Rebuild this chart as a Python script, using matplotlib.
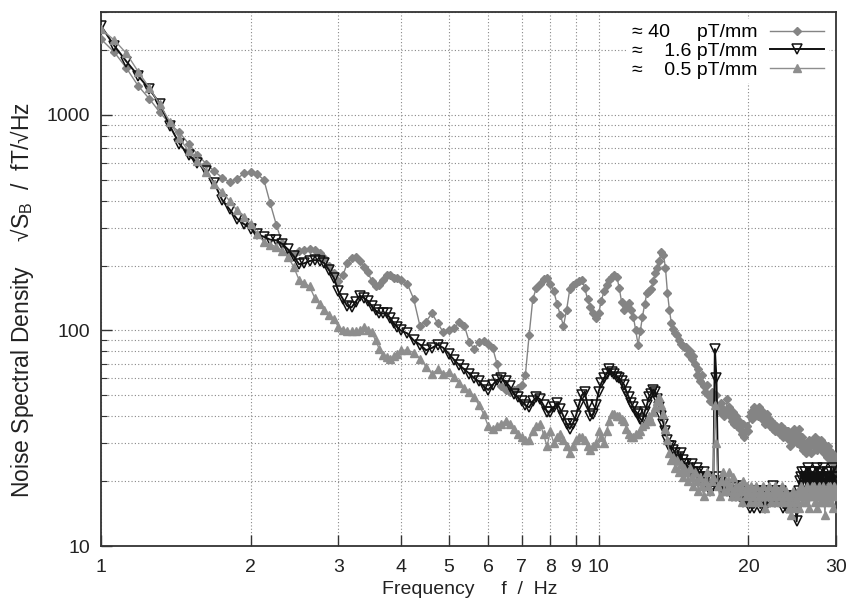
import numpy as np
import matplotlib
matplotlib.use("Agg")
import matplotlib.pyplot as plt
from matplotlib.ticker import FixedLocator, NullLocator, LogLocator, NullFormatter

# ─── Data ─────────────────────────────────────────────────────────────────────
# frequency bins: 1/16 Hz below 4 Hz, 1/8 Hz from 4 to 30 Hz
freq_lo = np.arange(1.0, 4.0, 0.0625)
freq_hi = np.arange(4.0, 30.001, 0.125)

# ≈ 40 pT/mm (grey diamonds), fT/sqrt(Hz)
nsd_40_lo = [2250, 1960, 1650, 1365, 1190, 1030, 910, 830, 735, 655,
             595, 550, 512, 490, 505, 535, 545, 530, 500, 390,
             310, 255, 228, 226, 234, 237, 239, 237, 230, 218,
             200, 185, 170, 180, 205, 218, 220, 210, 198, 186,
             170, 160, 163, 172, 181, 180, 176, 175]
nsd_40_hi = [172, 165, 140, 105, 110, 120, 108, 98,
             100, 103, 109, 105, 88, 82, 88, 89,
             87, 83, 70, 55, 53, 52, 53, 54,
             56, 62, 95, 140, 158, 165, 174, 176,
             165, 152, 133, 118, 105, 125, 155, 163,
             166, 170, 172, 158, 140, 128, 120, 114,
             120, 137, 152, 163, 172, 178, 181, 178,
             158, 135, 124, 130, 134, 124, 115, 100,
             86, 99, 116, 132, 149, 152, 155, 170,
             184, 195, 210, 232, 225, 195, 150, 125,
             108, 102, 97, 95, 90, 87, 85, 84,
             84, 78, 80, 74, 76, 70, 62, 66,
             58, 62, 55, 52, 56, 50, 47, 52,
             48, 45, 50, 44, 42, 46, 43, 40,
             42, 48, 44, 40, 38, 42, 37, 40,
             36, 38, 35, 33, 37, 32, 34, 36,
             34, 40, 42, 39, 44, 41, 43, 40,
             44, 41, 39, 42, 40, 37, 41, 38,
             39, 36, 38, 35, 37, 34, 36, 35,
             35, 33, 36, 34, 32, 35, 33, 34,
             34, 31, 29, 33, 30, 32, 35, 31,
             30, 33, 35, 31, 29, 32, 28, 30,
             29, 27, 30, 28, 31, 29, 27, 30,
             31, 29, 32, 30, 28, 31, 29, 30,
             31, 28, 30, 27, 29, 28, 26, 29,
             28, 26, 27, 25, 27, 26, 24, 26,
             25]

# ≈ 1.6 pT/mm (black open triangles)
nsd_16_lo = [2590, 2100, 1770, 1520, 1320, 1130, 890, 735, 650, 600,
             550, 485, 405, 365, 330, 312, 297, 280, 272, 264,
             262, 252, 238, 222, 203, 205, 210, 212, 211, 205,
             190, 175, 152, 140, 130, 128, 136, 145, 142, 137,
             130, 124, 120, 120, 120, 114, 108, 104]
nsd_16_hi = [100, 97, 90, 86, 81, 83, 86, 83,
             78, 73, 69, 66, 63, 60, 58, 55,
             53, 56, 59, 60, 58, 55, 51, 49,
             47, 45, 44, 47, 49, 48, 45, 42,
             42, 44, 46, 43, 40, 37, 35, 37,
             40, 45, 50, 52, 45, 40, 41, 45,
             52, 57, 60, 63, 66, 64, 63, 61,
             60, 58, 56, 52, 49, 46, 44, 42,
             41, 39, 38, 42, 45, 49, 51, 53,
             52, 48, 44, 40, 37, 34, 31, 29,
             29, 28, 27, 25, 26, 27, 25, 24,
             24, 23, 22, 24, 22, 21, 23, 22,
             21, 20, 22, 19, 21, 20, 18, 20,
             19, 82, 60, 21, 19, 20, 18, 19,
             19, 18, 20, 19, 17, 18, 19, 17,
             18, 17, 19, 18, 16, 17, 18, 16,
             16, 15, 17, 18, 15, 16, 18, 17,
             17, 15, 16, 18, 17, 15, 16, 17,
             18, 16, 17, 19, 17, 16, 18, 17,
             17, 16, 18, 17, 15, 16, 17, 15,
             16, 15, 17, 16, 15, 17, 16, 15,
             13, 15, 18, 20, 21, 22, 19, 21,
             22, 19, 20, 23, 21, 18, 22, 20,
             19, 22, 21, 18, 23, 20, 19, 22,
             21, 19, 23, 20, 18, 21, 22, 19,
             21, 18, 22, 20, 19, 23, 21, 19,
             21]

# ≈ 0.5 pT/mm (grey filled triangles)
nsd_05_lo = [2500, 2230, 1930, 1590, 1340, 1120, 930, 780, 680, 610,
             545, 480, 440, 400, 362, 337, 312, 280, 258, 250,
             245, 235, 220, 198, 172, 166, 160, 142, 133, 125,
             118, 113, 104, 101, 99, 99, 99, 100, 104, 101,
             98, 90, 82, 77, 75, 74, 76, 78]
nsd_05_hi = [81, 81, 79, 74, 68, 63, 66, 63,
             64, 61, 57, 54, 52, 49, 45, 41,
             36, 35, 36, 37, 38, 37, 35, 33,
             32, 31, 31, 34, 36, 37, 33, 29,
             34, 30, 32, 33, 31, 29, 27, 29,
             31, 32, 32, 31, 29, 28, 29, 30,
             34, 32, 30, 34, 38, 41, 41, 40,
             40, 39, 38, 35, 33, 32, 32, 33,
             33, 34, 36, 37, 38, 40, 38, 42,
             44, 47, 49, 45, 41, 35, 31, 27,
             25, 26, 23, 25, 22, 24, 21, 23,
             22, 20, 23, 21, 19, 22, 20, 18,
             21, 19, 17, 20, 22, 19, 18, 20,
             21, 45, 30, 19, 17, 20, 22, 18,
             20, 18, 22, 19, 17, 21, 18, 19,
             17, 19, 18, 16, 20, 18, 17, 19,
             18, 16, 19, 17, 18, 16, 19, 17,
             16, 18, 17, 19, 17, 15, 18, 17,
             19, 17, 16, 18, 17, 19, 16, 18,
             17, 18, 16, 19, 17, 16, 18, 17,
             16, 15, 17, 14, 16, 18, 15, 17,
             16, 18, 15, 17, 19, 16, 18, 17,
             18, 16, 19, 17, 15, 18, 17, 19,
             17, 19, 16, 18, 15, 17, 19, 16,
             18, 16, 19, 17, 14, 18, 16, 19,
             17, 19, 16, 18, 17, 15, 19, 18,
             17]

labels = ["\u2248 40     pT/mm", "\u2248    1.6 pT/mm", "\u2248    0.5 pT/mm"]
x_ticks = [1, 2, 3, 4, 5, 6, 7, 8, 9, 10, 20, 30]

freq = np.concatenate([freq_lo, freq_hi])

# ─── Plot ─────────────────────────────────────────────────────────────────────
plt.rcParams["font.family"] = ["Liberation Sans", "DejaVu Sans"]
plt.rcParams["font.size"] = 14

fig = plt.figure(figsize=(8.58, 6.06), dpi=100)
ax = fig.add_axes([0.1177, 0.099, 0.8567, 0.881])

ax.plot(freq, nsd_40_lo + nsd_40_hi, color="#848484", lw=1.0, marker="D",
        ms=4, mec="#848484", mfc="#848484", label=labels[0], zorder=3)
ax.plot(freq, nsd_16_lo + nsd_16_hi, color="#111111", lw=1.4, marker="v",
        ms=6.5, mec="#111111", mfc="none", mew=1.1, label=labels[1], zorder=4)
ax.plot(freq, nsd_05_lo + nsd_05_hi, color="#8e8e8e", lw=1.0, marker="^",
        ms=6, mec="#8e8e8e", mfc="#8e8e8e", label=labels[2], zorder=5)

ax.set_xscale("log")
ax.set_yscale("log")
ax.set_xlim(1, 30)
ax.set_ylim(10, 3000)

ax.xaxis.set_major_locator(FixedLocator(x_ticks))
ax.xaxis.set_minor_locator(NullLocator())
ax.set_xticklabels([str(t) for t in x_ticks])
ax.yaxis.set_major_locator(FixedLocator([10, 100, 1000]))
ax.set_yticklabels(["10", "100", "1000"])
ax.yaxis.set_minor_locator(LogLocator(base=10, subs=np.arange(2, 10)))
ax.yaxis.set_minor_formatter(NullFormatter())

ax.tick_params(which="major", direction="in", length=8, width=1.0,
               colors="#333333", labelcolor="#222222", pad=9, labelsize=14)
ax.tick_params(which="minor", direction="in", length=4, width=0.8, colors="#333333")
ax.tick_params(axis="y", pad=8)
ax.grid(which="both", linestyle=(0, (1, 2)), color="#888888", linewidth=0.8, zorder=0)

for sp in ax.spines.values():
    sp.set_color("#333333")
    sp.set_linewidth(1.3)

leg = ax.legend(loc="upper right", markerfirst=False, frameon=True,
                facecolor="white", edgecolor="none", framealpha=1.0,
                handlelength=2.8, handletextpad=0.65, labelspacing=0.05,
                borderpad=0.25, borderaxespad=0.35, fontsize=14)
leg.set_zorder(10)

fig.text(0.026, 0.505, "Noise Spectral Density    \u221aS$_\\mathregular{B}$  /  fT/\u221aHz",
         rotation=90, ha="center", va="center", color="#222222", fontsize=16.5)
fig.text(0.548, 0.027, "Frequency     f  /  Hz", ha="center", va="center",
         color="#222222", fontsize=14)

fig.savefig("out.png", dpi=100)
